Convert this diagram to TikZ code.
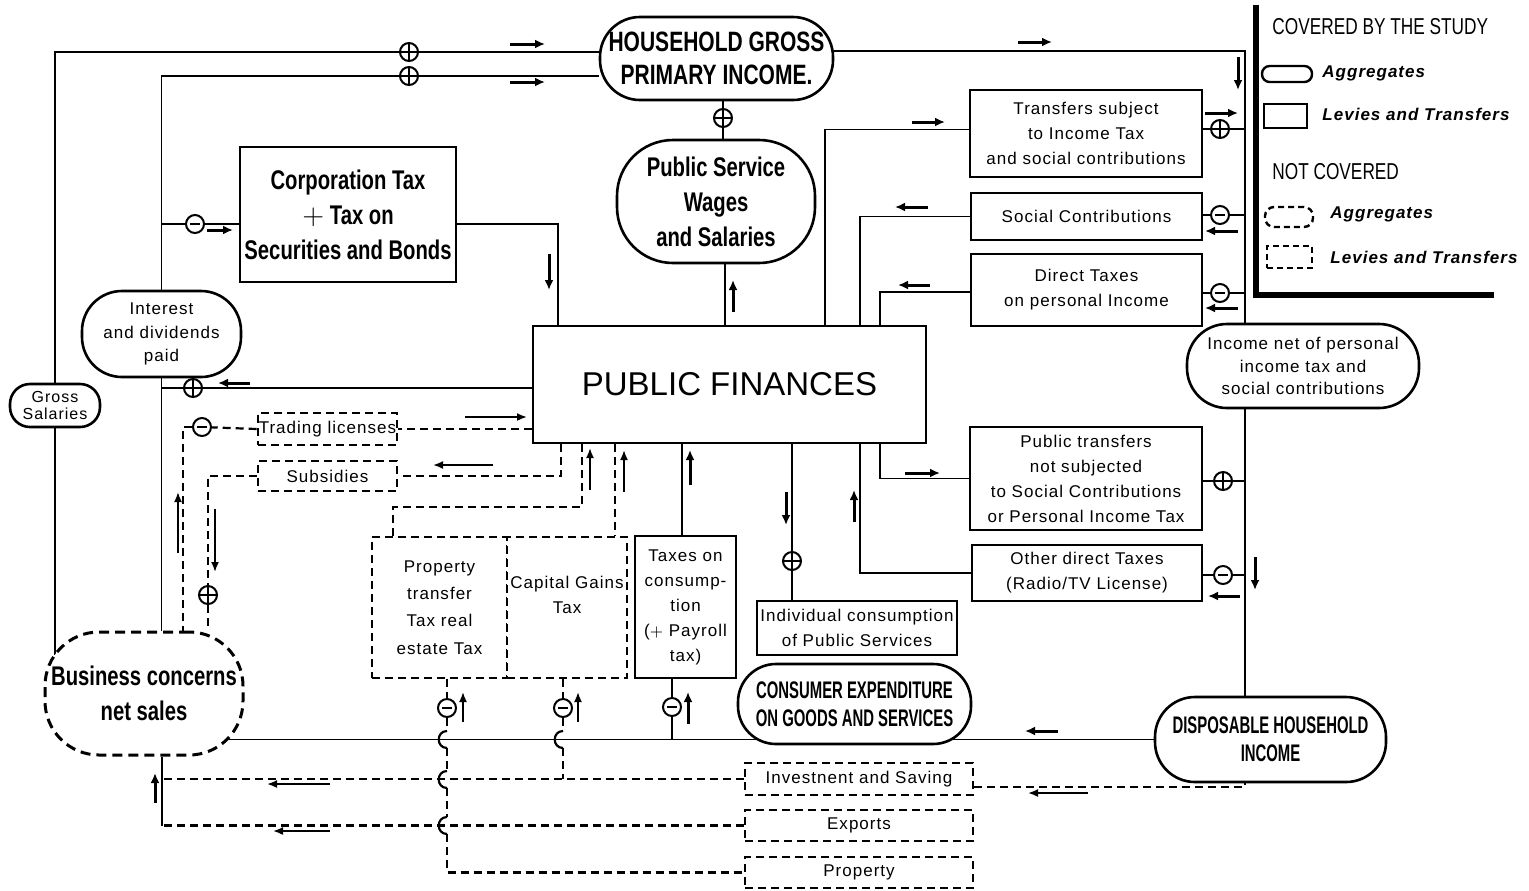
\documentclass[tikz,border=0pt]{standalone}
\usepackage{fontspec}
\setmainfont{Liberation Sans}
\newfontfamily\cond[FakeStretch=0.75]{Liberation Sans}
\newfontfamily\condx[FakeStretch=0.62]{Liberation Sans}
\newfontfamily\sm[LetterSpace=6]{Liberation Sans}
\usetikzlibrary{calc,arrows.meta}
\pgfdeclarelayer{bg}
\pgfsetlayers{bg,main}
% place a node by its corners (pixel units): name, style, x1, y1, x2, y2, text
\newcommand\mk[7]{%
 \pgfmathsetmacro\mkcx{(#3+#5)/2}\pgfmathsetmacro\mkcy{(#4+#6)/2}%
 \pgfmathsetmacro\mkw{(#5-#3)*0.5}\pgfmathsetmacro\mkh{(#6-#4)*0.5}%
 \node[#2, minimum width=\mkw pt, minimum height=\mkh pt] (#1) at (\mkcx,\mkcy) {#7};}
\begin{document}
\begin{tikzpicture}[x=0.5pt,y=-0.5pt,
 ln/.style={line width=0.9pt},
 hop/.style={line width=1.1pt},
 dsh/.style={line width=1.1pt, dash pattern=on 4pt off 2.5pt},
 box/.style={draw, line width=1.3pt, fill=white, inner sep=0pt, align=center, font=\sm\fontsize{8.5}{12.5}\selectfont},
 dbox/.style={box, dash pattern=on 4pt off 2.5pt},
 fl/.style={line width=1.5pt, -{Latex[length=5pt,width=4.5pt]}},
 fln/.style={line width=0.9pt, -{Latex[length=5pt,width=4pt]}},
 sg/.style={circle, draw, fill=white, line width=1pt, minimum size=9pt, inner sep=0pt},
 pl/.style={sg, path picture={\draw[line width=0.9pt] (path picture bounding box.north) -- (path picture bounding box.south) (path picture bounding box.west) -- (path picture bounding box.east);}},
 mi/.style={sg, path picture={\draw[line width=1pt] ([xshift=-2.3pt]path picture bounding box.center) -- ([xshift=2.3pt]path picture bounding box.center);}},
 big/.style={font=\cond\bfseries\fontsize{13.5}{17.5}\selectfont},
 caps/.style={font=\condx\bfseries\fontsize{12}{14}\selectfont},
 lgt/.style={anchor=west, font=\sm\bfseries\itshape\fontsize{8.5}{10}\selectfont, inner sep=0pt},
 lgh/.style={anchor=west, inner sep=0pt, font=\cond\fontsize{11.5}{13}\selectfont},
]
\useasboundingbox (0,0) rectangle (1529,890);

% ---------- nodes ----------
\mk{HH}{box, rounded corners=20pt, font=\cond\bfseries\fontsize{14}{16.5}\selectfont}{600}{17}{833}{100}{HOUSEHOLD GROSS\\PRIMARY INCOME.}
\mk{PS}{box, big, rounded corners=28pt}{617}{140}{815}{263}{Public Service\\Wages\\and Salaries}
\mk{CT}{box, big}{240}{147}{456}{282}{Corporation Tax\\$+$ Tax on\\Securities and Bonds}
\mk{PF}{box, font=\fontsize{16.5}{20}\selectfont}{533}{326}{926}{443}{PUBLIC FINANCES}
\mk{TR}{box}{970}{90}{1202}{177}{Transfers subject\\to Income Tax\\and social contributions}
\mk{SC}{box}{971}{193}{1202}{240}{Social Contributions}
\mk{DT}{box}{971}{254}{1202}{326}{Direct Taxes\\on personal Income}
\mk{IN}{box, rounded corners=20pt, font=\sm\fontsize{8.5}{11.3}\selectfont}{1187}{324}{1419}{408}{Income net of personal\\income tax and\\social contributions}
\mk{PT}{box}{970}{427}{1202}{530}{Public transfers\\not subjected\\to Social Contributions\\or Personal Income Tax}
\mk{OD}{box}{972}{545}{1202}{601}{Other direct Taxes\\(Radio/TV License)}
\mk{IC}{box}{757}{601}{957}{655}{Individual consumption\\of Public Services}
\mk{CE}{box, caps, rounded corners=19pt}{738}{664}{971}{744}{CONSUMER EXPENDITURE\\ON GOODS AND SERVICES}
\mk{DH}{box, caps, rounded corners=20pt}{1155}{697}{1386}{782}{DISPOSABLE HOUSEHOLD\\INCOME}
\mk{TC}{box}{635}{536}{736}{678}{Taxes on\\consump-\\tion\\($+$ Payroll\\tax)}
\mk{PR}{dbox, font=\sm\fontsize{8.5}{13.7}\selectfont}{372}{537}{507}{678}{Property\\transfer\\Tax real\\estate Tax}
\mk{CG}{dbox}{507}{537}{627}{678}{Capital Gains\\Tax\\~}
\mk{TL}{dbox}{258}{413}{397}{445}{Trading licenses}
\mk{SU}{dbox}{258}{461}{397}{491}{Subsidies}
\mk{ID}{box, rounded corners=20pt, font=\sm\fontsize{8.5}{11.7}\selectfont}{82}{291}{241}{377}{Interest\\and dividends\\paid}
\mk{GS}{box, rounded corners=10pt, font=\sm\fontsize{8}{8.8}\selectfont}{10}{384}{100}{427}{Gross\\Salaries}
\mk{BC}{dbox, big, line width=1.5pt, dash pattern=on 5pt off 3pt, rounded corners=27pt}{45}{632}{243}{755}{Business concerns\\net sales}
\mk{IS}{dbox}{745}{763}{973}{795}{Investnent and Saving}
\mk{EX}{dbox}{745}{810}{973}{841}{Exports}
\mk{PY}{dbox}{745}{857}{973}{888}{Property}

% ---------- sign circles ----------
\node[pl] (P1) at (409,52) {};
\node[pl] (P2) at (409,76) {};
\node[mi] (M1) at (195,224) {};
\node[pl] (P3) at (193,388) {};
\node[pl] (P4) at (723,118) {};
\node[pl] (P5) at (1220,129) {};
\node[mi] (M2) at (1220,215) {};
\node[mi] (M3) at (1220,293) {};
\node[pl] (P6) at (1223,481) {};
\node[mi] (M4) at (1223,575) {};
\node[pl] (P7) at (792,561) {};
\node[mi] (M5) at (672,707) {};
\node[mi] (M6) at (447,708) {};
\node[mi] (M7) at (563,708) {};
\node[mi] (M8) at (202,427) {};
\node[pl] (P8) at (208,595) {};

% ---------- helper coordinates ----------
\coordinate (R1) at (1245,51);
\coordinate (x558) at (558,0);
\coordinate (x725) at (725,0);
\coordinate (x825) at (825,0);
\coordinate (x860) at (860,0);
\coordinate (x880) at (880,0);
\coordinate (x682) at (682,0);
\coordinate (x162) at (162,0);
\coordinate (x183) at (183,0);
\coordinate (x561) at (561,0);
\coordinate (x582) at (582,0);
\coordinate (x615) at (615,0);
\coordinate (K1) at (393,507);
\coordinate (BCr) at (215,0);

\begin{pgfonlayer}{bg}
\fill[white] (0,0) rectangle (1529,890);
% solid connectors
\draw[ln] (GS.north) |- (P1) -- (HH.west |- P1);
\draw[ln] (GS.south) -- ($(GS.south |- BC.north)+(0,24)$);
\draw[ln] (ID.north) |- (P2) -- (HH.west |- P2);
\draw[ln] (ID.north |- M1) -- (M1) -- (CT.west |- M1);
\draw[ln] (ID.south) -- (ID.south |- BC.north);
\draw[ln] (PF.west |- P3) -- (P3) -- (ID.south |- P3);
\draw[ln] (CT.east |- M1) -| (x558 |- PF.north);
\draw[ln] (HH.south -| P4) -- (P4) -- (PS.north -| P4);
\draw[ln] (PS.south -| x725) -- (PF.north -| x725);
\draw[ln] (HH.east |- R1) -- (R1) -- (R1 |- IN.north);
\draw[ln] (R1 |- IN.south) -- (R1 |- DH.north);
\draw[ln] (PF.north -| x825) |- ($(TR.west)+(0,-4)$);
\draw[ln] (PF.north -| x860) |- (SC.west);
\draw[ln] (PF.north -| x880) |- ($(DT.west)+(0,2)$);
\draw[ln] (TR.east |- P5) -- (P5) -- (R1 |- P5);
\draw[ln] (SC.east |- M2) -- (M2) -- (R1 |- M2);
\draw[ln] (DT.east |- M3) -- (M3) -- (R1 |- M3);
\draw[ln] (PT.east |- P6) -- (P6) -- (R1 |- P6);
\draw[ln] (OD.east |- M4) -- (M4) -- (R1 |- M4);
\draw[ln] (PF.south -| x880) |- (PT.west);
\draw[ln] (PF.south -| x860) |- (OD.west);
\draw[ln] (PF.south -| P7) -- (P7) -- (IC.north -| P7);
\draw[ln] (DH.west) -- (BCr |- DH.west);
\draw[ln] (PF.south -| x682) -- (TC.north -| x682);
\draw[ln] (TC.south -| M5) -- (M5) -- (M5 |- DH.west);
\draw[ln] (BC.south -| x162) -- (x162 |- EX.west);
% dashed connectors
\draw[dsh] (PF.west |- TL.east) -- (TL.east);
\draw[dsh] (TL.west) -- (M8);
\draw[dsh] (M8) -| (x183 |- BC.north);
\draw[dsh] (PF.south -| x561) |- (SU.east);
\draw[dsh] (SU.west) -| (P8);
\draw[dsh] (P8) -- (P8 |- BC.north);
\draw[dsh] (PF.south -| x582) |- (K1) -- (K1 |- PR.north);
\draw[dsh] (PF.south -| x615) -- (CG.north -| x615);
\draw[dsh] (PR.south -| M6) -- (M6);
\draw[dsh] (M6) -- (447,731);
\draw[hop] (447,731) .. controls (436,731) and (436,748) .. (447,748);
\draw[dsh] (447,748) -- (447,771);
\draw[hop] (447,771) .. controls (436,771) and (436,788) .. (447,788);
\draw[dsh] (447,788) -- (447,817);
\draw[hop] (447,817) .. controls (436,817) and (436,834) .. (447,834);
\draw[dsh] (447,834) |- (PY.west);
\draw[dsh] (CG.south -| M7) -- (M7);
\draw[dsh] (M7) -- (563,731);
\draw[hop] (563,731) .. controls (552,731) and (552,748) .. (563,748);
\draw[dsh] (563,748) -- (563,779);
\draw[dsh] (IS.west) -- (x162 |- IS.west);
\draw[dsh] (EX.west) -- (x162 |- EX.west);
\draw[dsh] ($(IS.east)+(0,8)$) -| (R1 |- DH.south);
\end{pgfonlayer}

% ---------- flow arrows ----------
\draw[fl] (510,44) -- (545,44);
\draw[fl] (510,82) -- (545,82);
\draw[fl] (1018,42) -- (1052,42);
\draw[fl] (1238,57) -- (1238,90);
\draw[fl] (207,230) -- (233,230);
\draw[fl] (549,254) -- (549,290);
\draw[fl] (733,312) -- (733,280);
\draw[fl] (912,122) -- (945,122);
\draw[fl] (928,207) -- (895,207);
\draw[fl] (930,285) -- (898,285);
\draw[fl] (1205,113) -- (1238,113);
\draw[fl] (1238,231) -- (1205,231);
\draw[fl] (1238,308) -- (1205,308);
\draw[fl] (905,473) -- (940,473);
\draw[fl] (854,522) -- (854,490);
\draw[fl] (786,492) -- (786,525);
\draw[fl] (1240,596) -- (1208,596);
\draw[fl] (1255,557) -- (1255,590);
\draw[fl] (250,383) -- (218,383);
\draw[fln] (465,417) -- (527,417);
\draw[fln] (493,465) -- (433,465);
\draw[fln] (590,490) -- (590,448);
\draw[fln] (624,492) -- (624,450);
\draw[fl] (690,485) -- (690,450);
\draw[fln] (178,553) -- (178,492);
\draw[fln] (215,509) -- (215,572);
\draw[fln] (463,722) -- (463,692);
\draw[fln] (578,722) -- (578,692);
\draw[fl] (688,724) -- (688,692);
\draw[fl] (1058,731) -- (1025,731);
\draw[fln] (1088,793) -- (1028,793);
\draw[fln] (330,784) -- (267,784);
\draw[fln] (330,831) -- (273,831);
\draw[fl] (155,803) -- (155,773);

% ---------- legend ----------
\draw[line width=3pt] (1256,5) -- (1256,295) -- (1494,295);
\node[lgh] (LA) at (1272,27) {COVERED BY THE STUDY};
\mk{LB}{draw, line width=1.2pt, rounded corners=3.8pt, inner sep=0pt}{1262}{66}{1312}{82}{}
\node[lgt] (LC) at (1322,73) {Aggregates};
\mk{LD}{draw, line width=1.2pt, inner sep=0pt}{1264}{104}{1307}{128}{}
\node[lgt] (LE) at (1322,114) {Levies and Transfers};
\node[lgh] (LF) at (1272,172) {NOT COVERED};
\mk{LG}{draw, line width=1.2pt, dash pattern=on 3pt off 2pt, rounded corners=4.5pt, inner sep=0pt}{1265}{207}{1313}{227}{}
\node[lgt] (LH) at (1330,214) {Aggregates};
\mk{LI}{draw, line width=1.2pt, dash pattern=on 3pt off 2pt, inner sep=0pt}{1267}{246}{1312}{268}{}
\node[lgt] (LJ) at (1330,257) {Levies and Transfers};
\end{tikzpicture}
\end{document}
